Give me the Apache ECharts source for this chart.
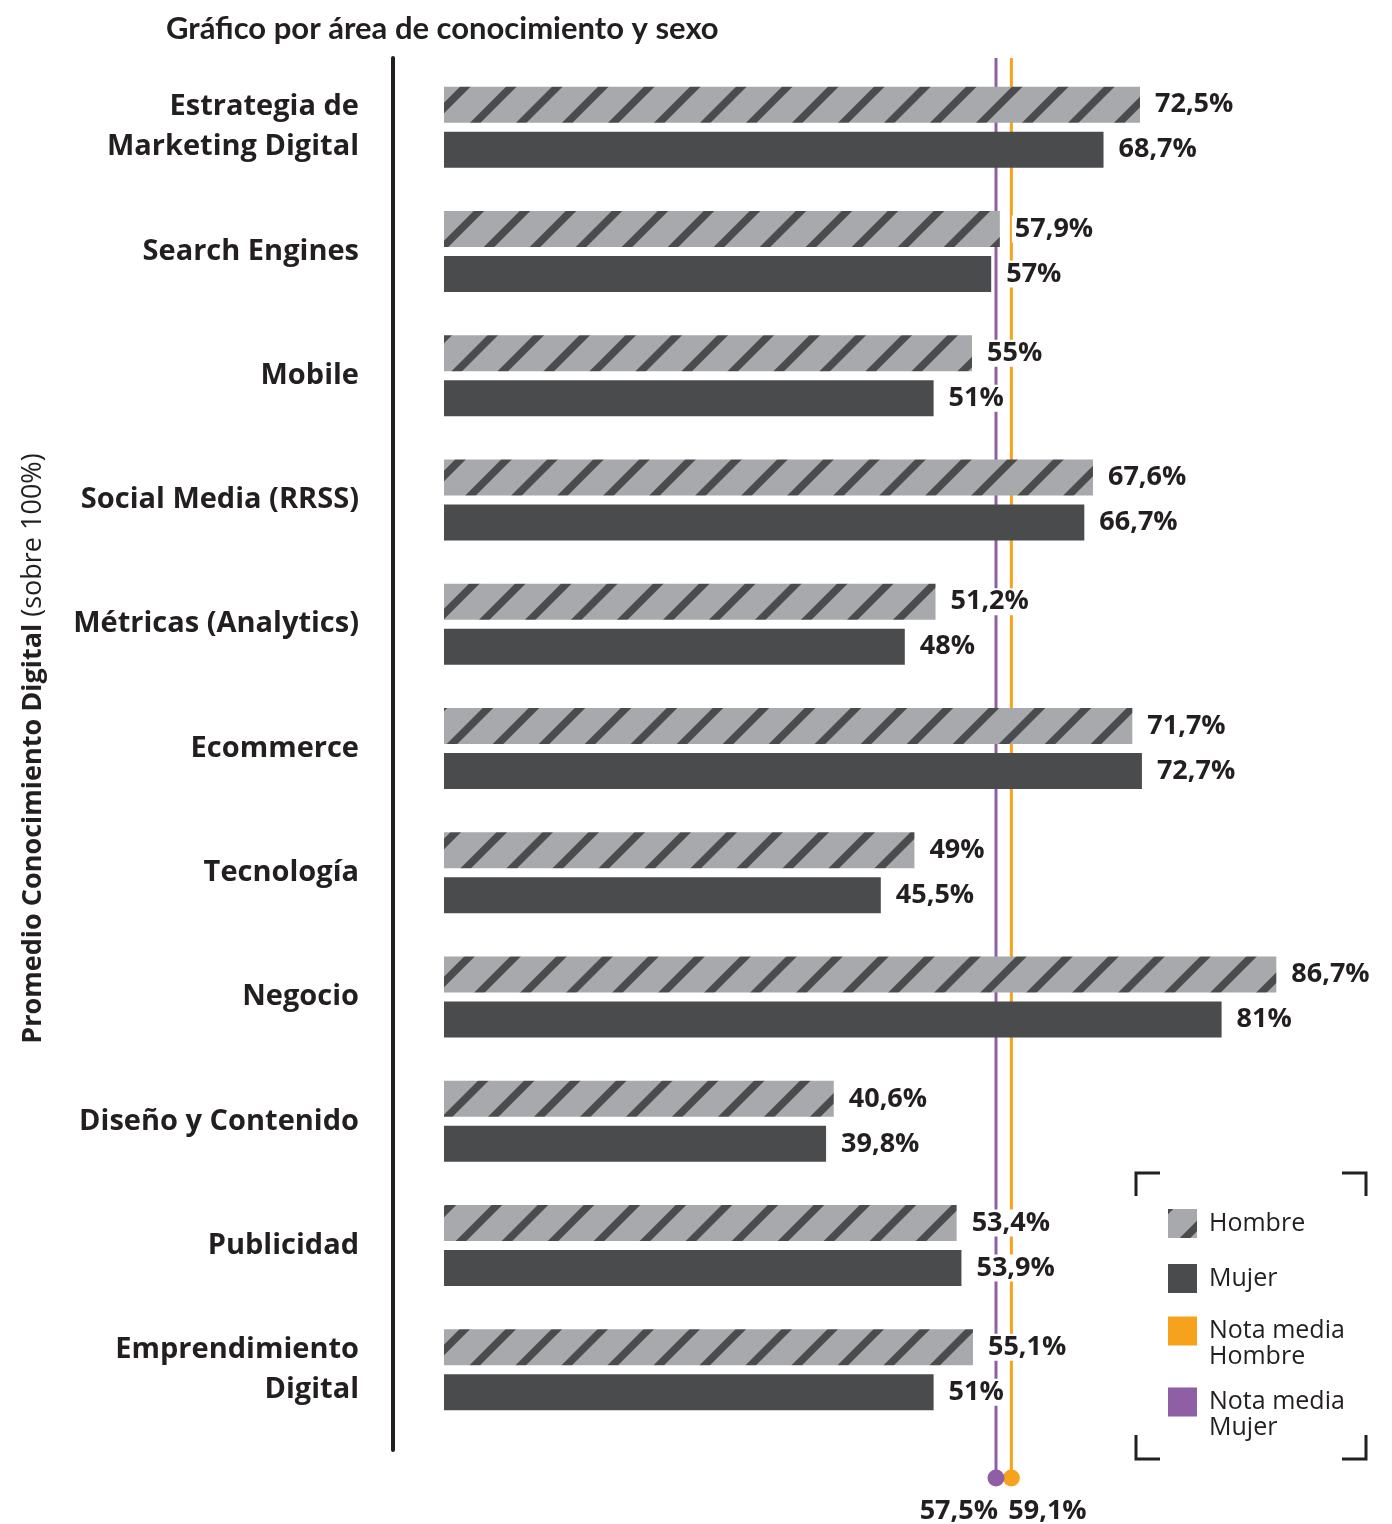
<!DOCTYPE html>
<html>
<head>
<meta charset="utf-8">
<script src="https://cdn.jsdelivr.net/npm/echarts@6/dist/echarts.min.js"></script>
<style>
  html, body { margin: 0; padding: 0; background: #fff; }
  #chart { width: 1392px; height: 1524px; }
</style>
</head>
<body>
<div id="chart"></div>
<script>
// Knowledge areas, top to bottom
const categories = [
  'Estrategia de\nMarketing Digital',
  'Search Engines',
  'Mobile',
  'Social Media (RRSS)',
  'Métricas (Analytics)',
  'Ecommerce',
  'Tecnología',
  'Negocio',
  'Diseño y Contenido',
  'Publicidad',
  'Emprendimiento\nDigital'
];
// Average score (%) per area
const hombre = [72.5, 57.9, 55, 67.6, 51.2, 71.7, 49, 86.7, 40.6, 53.4, 55.1];
const mujer  = [68.7, 57, 51, 66.7, 48, 72.7, 45.5, 81, 39.8, 53.9, 51];
// Overall averages
const mediaHombre = 59.1;
const mediaMujer = 57.5;

const INK = '#231f20';
const DARK = '#4a4b4d';
const LIGHT = '#a7a9ac';
const ORANGE = '#f6a21c';
const PURPLE = '#8f5fa6';
const SANS = '"Open Sans", sans-serif';

// Diagonal hatch used for the "Hombre" bars (seamless 46px tile)
function makeHatch() {
  const s = 46;
  const c = document.createElement('canvas');
  c.width = s; c.height = s;
  const g = c.getContext('2d');
  g.fillStyle = LIGHT;
  g.fillRect(0, 0, s, s);
  g.strokeStyle = DARK;
  g.lineWidth = 7.5;
  g.lineCap = 'square';
  [-s, 0, s].forEach(function (o) {
    g.beginPath();
    g.moveTo(o - 12, s + 12);
    g.lineTo(o + s + 12, -12);
    g.stroke();
  });
  return c;
}
const hatch = { image: makeHatch(), repeat: 'repeat' };

function pct(v) {
  return String(v).replace('.', ',') + '%';
}

const valueLabel = {
  show: true,
  position: 'right',
  distance: 12,
  color: INK,
  fontFamily: SANS,
  fontWeight: 'bold',
  fontSize: 27,
  backgroundColor: '#fff',
  padding: [0, 3],
  formatter: function (p) { return pct(p.value); }
};

function averageLine(name, value, color, align, dx) {
  return {
    name: name,
    type: 'line',
    xAxisIndex: 1,
    yAxisIndex: 1,
    z: 1,
    color: color,
    symbol: 'circle',
    symbolSize: 0,
    lineStyle: { color: color, width: 3 },
    itemStyle: { color: color },
    data: [
      [value, 1],
      {
        value: [value, 0],
        symbolSize: 17,
        label: {
          show: true,
          position: 'bottom',
          align: align,
          offset: [dx, 5],
          distance: 6,
          color: INK,
          fontFamily: SANS,
          fontWeight: 'bold',
          fontSize: 27,
          formatter: function (p) { return pct(p.value[0]); }
        }
      }
    ]
  };
}

// One legend block per entry; two-line names get a blank lead line so the
// first line sits level with the swatch
function legendFor(name, top, twoLines) {
  return {
    data: [name],
    orient: 'vertical',
    left: 1168,
    top: top,
    padding: 0,
    icon: 'rect',
    itemWidth: 29,
    itemHeight: 29,
    itemGap: 0,
    selectedMode: false,
    formatter: function (n) { return twoLines ? ' \n' + n : n; },
    textStyle: {
      color: INK,
      fontFamily: SANS,
      fontSize: 25,
      lineHeight: 26,
      padding: [0, 0, 0, 7]
    }
  };
}

function corner(points) {
  return {
    type: 'polyline',
    shape: { points: points },
    style: { stroke: INK, lineWidth: 3, fill: null }
  };
}

const chart = echarts.init(document.getElementById('chart'), null, { renderer: 'canvas' });

chart.setOption({
  animation: false,
  backgroundColor: '#fff',
  title: {
    text: 'Gráfico por área de conocimiento y sexo',
    left: 166,
    top: 13,
    padding: 0,
    textStyle: { color: INK, fontFamily: 'Lato', fontWeight: 'bold', fontSize: 31 }
  },
  legend: [
    legendFor('Hombre', 1209, false),
    legendFor('Mujer', 1264, false),
    legendFor('Nota media\nHombre', 1292, true),
    legendFor('Nota media\nMujer', 1363, true)
  ],
  grid: [
    { left: 444, right: 84, top: 65, bottom: 92 },
    { left: 444, right: 84, top: 58, bottom: 46 }
  ],
  xAxis: [
    { type: 'value', gridIndex: 0, min: 0, max: 90, show: false },
    { type: 'value', gridIndex: 1, min: 0, max: 90, show: false }
  ],
  yAxis: [
    {
      type: 'category',
      gridIndex: 0,
      inverse: true,
      data: categories,
      axisLine: { show: false },
      axisTick: { show: false },
      axisLabel: {
        margin: 85,
        color: INK,
        fontFamily: SANS,
        fontWeight: 'bold',
        fontSize: 29,
        lineHeight: 40,
        align: 'right'
      },
      name: '{b|Promedio Conocimiento Digital }{n|(sobre 100%)}',
      nameLocation: 'middle',
      nameRotate: 90,
      nameGap: 397,
      nameTextStyle: {
        rich: {
          b: { color: INK, fontFamily: SANS, fontWeight: 'bold', fontSize: 27 },
          n: { color: INK, fontFamily: SANS, fontSize: 27 }
        }
      }
    },
    { type: 'value', gridIndex: 1, min: 0, max: 1, show: false }
  ],
  graphic: [
    {
      type: 'line',
      shape: { x1: 393, y1: 58, x2: 393, y2: 1450 },
      style: { stroke: INK, lineWidth: 4, lineCap: 'round' }
    },
    corner([[1136, 1196], [1136, 1173], [1160, 1173]]),
    corner([[1342, 1173], [1366, 1173], [1366, 1196]]),
    corner([[1136, 1435], [1136, 1459], [1160, 1459]]),
    corner([[1342, 1459], [1366, 1459], [1366, 1435]])
  ],
  series: [
    {
      name: 'Hombre',
      type: 'bar',
      z: 3,
      barWidth: 36,
      barGap: '25%',
      itemStyle: { color: hatch },
      label: valueLabel,
      data: hombre
    },
    {
      name: 'Mujer',
      type: 'bar',
      z: 3,
      barWidth: 36,
      barGap: '25%',
      itemStyle: { color: DARK },
      label: valueLabel,
      data: mujer
    },
    averageLine('Nota media\nHombre', mediaHombre, ORANGE, 'left', -3),
    averageLine('Nota media\nMujer', mediaMujer, PURPLE, 'right', 2)
  ]
});
</script>
</body>
</html>
